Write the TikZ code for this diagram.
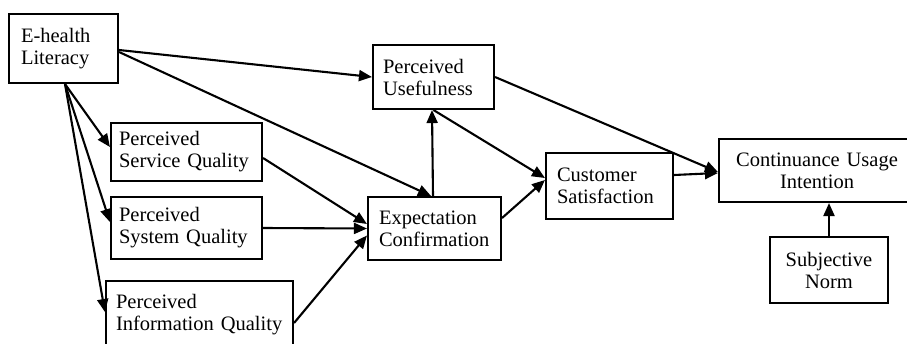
\documentclass[tikz,border=0pt]{standalone}
\usepackage{fontspec}
\setmainfont{Liberation Serif}
\usetikzlibrary{arrows.meta}
\hyphenpenalty=10000
\begin{document}
\begin{tikzpicture}[x=1pt,y=-1pt,
  box/.style={draw,line width=2.1pt,inner ysep=0pt,font=\fontsize{20.5}{22}\selectfont},
  lbox/.style={box,align=left},
  cbox/.style={box,align=center},
  arr/.style={line width=2.1pt,-{Triangle[length=13pt,width=11pt]}}]
\useasboundingbox (0,0) rectangle (907,343);
\begin{scope}
\clip (0,0) rectangle (907,343);
\node[lbox,minimum width=109pt,minimum height=69pt,inner xsep=12pt,text width=85pt] (E) at (63.5,48.5) {E-health\\Literacy};
\node[lbox,minimum width=151pt,minimum height=58pt,inner xsep=8pt,text width=135pt] (PSQ) at (186.5,152) {Perceived\\Service Quality};
\node[lbox,minimum width=151pt,minimum height=62pt,inner xsep=8pt,text width=135pt] (PSY) at (186.5,228) {Perceived\\System Quality};
\node[lbox,minimum width=187pt,minimum height=68pt,inner xsep=10pt,text width=167pt] (PIQ) at (199.5,315) {Perceived\\Information Quality};
\node[lbox,minimum width=121pt,minimum height=64pt,inner xsep=10pt,text width=101pt] (PU) at (433.5,77) {Perceived\\Usefulness};
\node[lbox,minimum width=133pt,minimum height=63pt,inner xsep=11pt,text width=111pt] (EC) at (434.5,228.5) {Expectation\\Confirmation};
\node[lbox,minimum width=127pt,minimum height=66pt,inner xsep=11pt,text width=105pt] (CS) at (609.5,186) {Customer\\Satisfaction};
\node[cbox,minimum width=196pt,minimum height=63pt,inner xsep=8pt,text width=180pt] (CUI) at (817,170.5) {Continuance Usage\\Intention};
\node[cbox,minimum width=118pt,minimum height=66pt,inner xsep=8pt,text width=102pt] (SN) at (829,270) {Subjective\\Norm};
\end{scope}
\draw[arr] ([yshift=-1.5pt]E.east) -- (PU.west);
\draw[arr] ([yshift=-3.5pt]E.east) -- ([xshift=-3.5pt]EC.north);
\draw[arr] ([xshift=1.5pt]E.south) -- ([yshift=5pt]PSQ.west);
\draw[arr] ([xshift=1.5pt]E.south) -- ([yshift=6pt]PSY.west);
\draw[arr] ([xshift=1.5pt]E.south) -- ([yshift=3pt]PIQ.west);
\draw[arr] ([yshift=-6pt]PSQ.east) -- ([yshift=4.5pt]EC.west);
\draw[arr] (PSY.east) -- (EC.west);
\draw[arr] ([yshift=-8pt]PIQ.east) -- ([yshift=-7pt]EC.west);
\draw[arr] ([xshift=-1.5pt]EC.north) -- ([xshift=-1.5pt]PU.south);
\draw[arr] (PU.south) -- ([yshift=8pt]CS.west);
\draw[arr] ([yshift=10.5pt]EC.east) -- ([yshift=6pt]CS.west);
\draw[arr] (PU.east) -- ([yshift=-1.5pt]CUI.west);
\draw[arr] ([yshift=11pt]CS.east) -- ([yshift=-2.5pt]CUI.west);
\draw[arr] (SN.north) -- (SN.north |- CUI.south);
\end{tikzpicture}
\end{document}
